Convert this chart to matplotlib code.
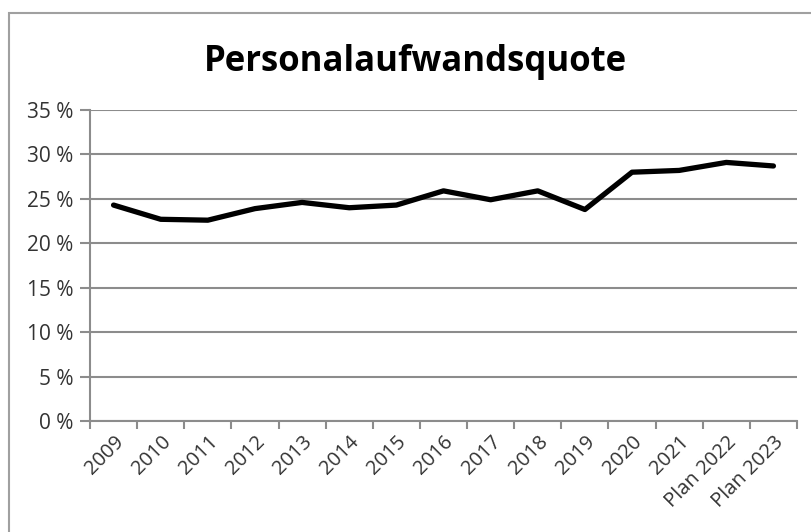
import matplotlib
matplotlib.use("Agg")
import matplotlib.pyplot as plt
from matplotlib.patches import Rectangle
import numpy as np

categories = ["2009", "2010", "2011", "2012", "2013", "2014", "2015", "2016",
              "2017", "2018", "2019", "2020", "2021", "Plan 2022", "Plan 2023"]
values = [24.3, 22.7, 22.6, 23.9, 24.6, 24.0, 24.3, 25.9,
          24.9, 25.9, 23.8, 28.0, 28.2, 29.1, 28.7]
y_ticks = [0, 5, 10, 15, 20, 25, 30, 35]
y_tick_labels = ["0 %", "5 %", "10 %", "15 %", "20 %", "25 %", "30 %", "35 %"]
title = "Personalaufwandsquote"

W, H = 811, 532
fig = plt.figure(figsize=(W / 100, H / 100), dpi=100)
fig.patch.set_facecolor("white")

# outer chart border (top and left visible, rest beyond the image)
fig.patches.append(Rectangle((9 / W, -0.1), 1.2, (H - 13) / H + 0.1,
                             transform=fig.transFigure, fill=False,
                             edgecolor="#a0a0a0", linewidth=1.5))

ax = fig.add_axes([90 / W, (H - 421) / H, (797 - 90) / W, (421 - 110) / H])
x = np.arange(len(categories))
ax.plot(x, values, color="black", linewidth=3.8, solid_joinstyle="round",
        solid_capstyle="round", zorder=3)

ax.set_xlim(-0.5, len(categories) - 0.5)
ax.set_ylim(0, 35)
ax.set_yticks(y_ticks)
ax.set_yticklabels(y_tick_labels)
ax.yaxis.grid(True, color="#8c8c8c", linewidth=1.5)
ax.set_axisbelow(True)

ax.set_xticks(np.arange(-0.5, len(categories), 1.0))
ax.set_xticklabels([])
ax.set_xticks(x, minor=True)
ax.set_xticklabels(categories, minor=True, rotation=45, ha="right",
                   rotation_mode="anchor")
ax.tick_params(axis="x", which="major", length=6, width=1.5, color="#8c8c8c", direction="out")
ax.tick_params(axis="x", which="minor", length=0, pad=8, labelcolor="#333333")
ax.tick_params(axis="y", length=7, width=1.5, color="#8c8c8c",
               labelcolor="#333333", pad=5)
for lbl in ax.get_xticklabels(minor=True):
    lbl.set_fontfamily("Open Sans")
    lbl.set_fontsize(14.5)
for lbl in ax.get_yticklabels():
    lbl.set_fontfamily("Open Sans")
    lbl.set_fontsize(15)

for s in ["top", "right"]:
    ax.spines[s].set_visible(False)
for s in ["left", "bottom"]:
    ax.spines[s].set_color("#8c8c8c")
    ax.spines[s].set_linewidth(1.5)

fig.text(415 / W, 1 - 62 / H, title, ha="center", va="center",
         fontsize=25, fontweight="bold", fontfamily="Open Sans", color="black")

fig.savefig("out.png", dpi=100)
